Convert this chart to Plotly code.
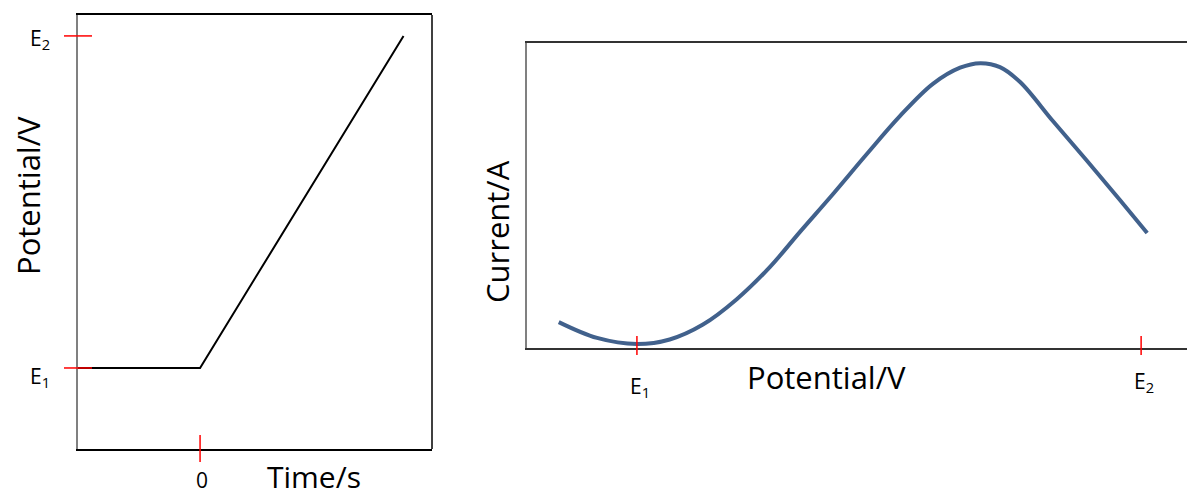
import plotly.graph_objects as go

# Applied waveform: potential held at E1, then ramped linearly to E2
time_s = [-1.2, 0.0, 2.0]
potential_ramp = [0.0, 0.0, 1.0]
time_ticks = [0.0]
time_tick_text = ["0"]
potential_ticks = [0.0, 1.0]
potential_tick_text = ["E<sub>1</sub>", "E<sub>2</sub>"]

# Current response recorded over the swept potential
sweep_potential = [-0.155, -0.079, 0.0, 0.065, 0.131, 0.198, 0.264, 0.323,
                   0.389, 0.456, 0.522, 0.587, 0.641, 0.681, 0.720, 0.760,
                   0.825, 0.893, 0.958, 1.012]
sweep_current = [0.085, 0.033, 0.013, 0.028, 0.077, 0.160, 0.266, 0.380,
                 0.505, 0.636, 0.761, 0.866, 0.919, 0.934, 0.921, 0.872,
                 0.744, 0.613, 0.485, 0.377]
sweep_ticks = [0.0, 1.0]
sweep_tick_text = ["E<sub>1</sub>", "E<sub>2</sub>"]

W, H = 1187, 497
FONT = "Open Sans, Lato, sans-serif"
RED = "#ff0000"


def fx(p):
    return p / W


def fy(p):
    return 1 - p / H


fig = go.Figure()

fig.add_trace(go.Scatter(
    x=time_s, y=potential_ramp, mode="lines",
    line=dict(color="#000000", width=2), xaxis="x", yaxis="y",
    showlegend=False, hoverinfo="skip"))

fig.add_trace(go.Scatter(
    x=sweep_potential, y=sweep_current, mode="lines",
    line=dict(color="#41618c", width=4, shape="spline", smoothing=1.0),
    xaxis="x2", yaxis="y2", showlegend=False, hoverinfo="skip"))

t_range = [-1.2, 2.28]
v_range = [-0.244, 1.063]
e_range = [-0.218, 1.091]
i_range = [0.0, 1.0]

axis_common = dict(showgrid=False, zeroline=False, showticklabels=False,
                   ticks="", fixedrange=True)

fig.update_layout(
    width=W, height=H,
    margin=dict(l=0, r=0, t=0, b=0),
    paper_bgcolor="white", plot_bgcolor="white",
    font=dict(family=FONT, color="#000000"),
    xaxis=dict(domain=[fx(78), fx(432)], range=t_range, anchor="y",
               showline=True, linecolor="#000000", linewidth=1.5, mirror=True,
               **axis_common),
    yaxis=dict(domain=[fy(449), fy(15)], range=v_range, anchor="x",
               showline=True, linecolor="#808080", linewidth=1.5,
               **axis_common),
    xaxis2=dict(domain=[fx(527), 1.0], range=e_range, anchor="y2",
                showline=True, linecolor="#333333", linewidth=1.5, mirror=True,
                **axis_common),
    yaxis2=dict(domain=[fy(348), fy(43)], range=i_range, anchor="x2",
                showline=True, linecolor="#808080", linewidth=1.5,
                **axis_common),
)

shapes = [
    # right-hand border of the waveform panel
    dict(type="line", xref="x domain", yref="y domain", x0=1, x1=1, y0=0, y1=1,
         line=dict(color="#000000", width=1.5)),
]
# red tick marks straddling the axes
for v in potential_ticks:
    shapes.append(dict(type="line", xref="x domain", yref="y",
                       xsizemode="pixel", xanchor=0, x0=-14, x1=14,
                       y0=v, y1=v, line=dict(color=RED, width=1.5)))
for t in time_ticks:
    shapes.append(dict(type="line", xref="x", yref="y domain",
                       ysizemode="pixel", yanchor=0, y0=-13, y1=14,
                       x0=t, x1=t, line=dict(color=RED, width=1.5)))
for e in sweep_ticks:
    shapes.append(dict(type="line", xref="x2", yref="y2 domain",
                       ysizemode="pixel", yanchor=0, y0=-7, y1=12,
                       x0=e, x1=e, line=dict(color=RED, width=1.5)))
fig.update_layout(shapes=shapes)

annotations = []
tick_font = dict(family=FONT, size=21, color="#000000")
title_font = dict(family=FONT, size=31, color="#000000")

# tick labels, placed from the tick values
for v, txt, dy in zip(potential_ticks, potential_tick_text, [-9, -3]):
    annotations.append(dict(xref="paper", yref="y", x=fx(78), y=v, text=txt,
                            xanchor="right", yanchor="middle", xshift=-26,
                            yshift=dy, showarrow=False, font=tick_font))
for t, txt in zip(time_ticks, time_tick_text):
    annotations.append(dict(xref="x", yref="paper", x=t, y=fy(480), text=txt,
                            xanchor="center", yanchor="middle", xshift=2,
                            showarrow=False, font=tick_font))
for e, txt, dy in zip(sweep_ticks, sweep_tick_text, [387, 382]):
    annotations.append(dict(xref="x2", yref="paper", x=e, y=fy(dy), text=txt,
                            xanchor="center", yanchor="middle", xshift=3,
                            showarrow=False, font=tick_font))

# axis titles
annotations += [
    dict(xref="paper", yref="paper", x=fx(314), y=fy(476), text="Time/s",
         xanchor="center", yanchor="middle", showarrow=False,
         font=dict(family=FONT, size=30, color="#000000")),
    dict(xref="paper", yref="paper", x=fx(28), y=fy(196), text="Potential/V",
         textangle=-90, xanchor="center", yanchor="middle", showarrow=False,
         font=title_font),
    dict(xref="paper", yref="paper", x=fx(826), y=fy(377), text="Potential/V",
         xanchor="center", yanchor="middle", showarrow=False, font=title_font),
    dict(xref="paper", yref="paper", x=fx(497), y=fy(231), text="Current/A",
         textangle=-90, xanchor="center", yanchor="middle", showarrow=False,
         font=title_font),
]
fig.update_layout(annotations=annotations)

fig.write_html("out.html", config={"displayModeBar": False})
